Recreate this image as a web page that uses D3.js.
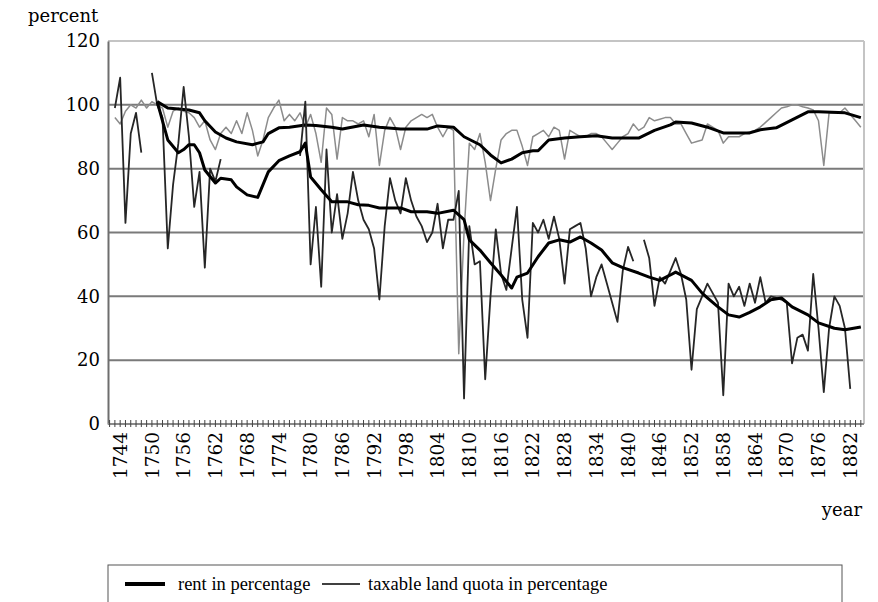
<!DOCTYPE html>
<html><head><meta charset="utf-8">
<script src="https://cdn.jsdelivr.net/npm/d3@7"></script>
<style>
body{margin:0;background:#fff}
svg{display:block}
text{font-family:"DejaVu Serif",serif;fill:#000}
</style>
</head><body>
<svg id="c" width="878" height="602"></svg>
<script>
// ---- data ----
const yTickValues = [0, 20, 40, 60, 80, 100, 120];
const xTickLabels = [1744,1750,1756,1762,1768,1774,1780,1786,1792,1798,1804,1810,1816,1822,1828,1834,1840,1846,1852,1858,1864,1870,1876,1882];

// thin grey upper series (annual, 1743-1884)
const quotaUpperStart = 1743;
const quotaUpperValues = [96,94,98,100,99,101.5,99,101,100,99,93,98,99,98,97.5,96,93,95,89,86,91,93,91,95,91,97.5,92,84,89,96,99,101.5,95,97,95,97.5,93,97,91,82,99,97,83,96,95,95,94,95,90,97,81,92,96,93,86,93,95,96,97,96,97,93,90,93,92,22,60,88,86,91,82,70,80,89,91,92,92,87,81,90,91,92,90,93,92,83,92,91,90,90,91,91,90,88,86,88,90,91,94,92,93,96,95,95.5,96,96,94,94,91,88,88.5,89,94,93,92,88,90,90,90,91,91.5,92,93,94.5,96,97.5,99,99.4,100,100,99.4,99,98.4,95,81,97.5,97.5,97.5,99,97,95,93];

// thin dark lower series (annual, 1743-1882, null = gap)
const quotaLowerStart = 1743;
const quotaLowerValues = [99,108.5,63,91,97.5,85,null,110,100,96,55,75,88,105.6,90,68,79,49,80,76,83,
 null,null,null,null,null,null,null,null,null,null,null,null,null,null,
 84,101,50,68,43,86,60,72,58,66,79,70,64,61,55,39,62,77,70,66,77,70,65,62,57,60,69,55,64,64,73,8,62,50,51,14,40,61,47,42,55,68,39,27,63,60,64,58,65,58,44,61,62,63,55,40,46,50,44,38,32,48,55.5,51,null,57.7,52,37,46,44,48,52,47,39,17,36,40,44,41,38,9,44,40,43,37,44,38,46,38,40,39.5,39,38,19,27,28,23,47,30,10,30,40,37,30,11];

// thick upper series
const rentUpperYears  = [1751,1753,1757,1759,1760,1762,1764,1766,1769,1771,1772,1774,1776,1779,1781,1784,1786,1790,1793,1797,1802,1804,1807,1809,1812,1814,1816,1818,1820,1822,1823,1825,1828,1831,1834,1837,1842,1845,1848,1849,1852,1855,1858,1863,1865,1868,1871,1874,1876,1881,1884];
const rentUpperValues = [101,99,98.4,97.5,95,91.5,89.6,88.4,87.5,88.4,91,92.8,93,93.7,93.5,93,92.4,93.7,93,92.4,92.4,93.4,93,90,87.5,84.3,81.8,83,85,85.6,85.6,89,89.6,90,90.3,89.6,89.6,92,93.7,94.6,94.3,93,91.2,91.2,92.2,92.8,95.3,97.8,97.8,97.5,96];

// thick lower series
const rentLowerYears  = [1751,1752,1753,1755,1756,1757,1758,1759,1760,1762,1763,1765,1766,1768,1770,1771,1772,1774,1776,1778,1779,1780,1782,1784,1787,1789,1791,1793,1797,1799,1802,1804,1807,1809,1810,1812,1814,1816,1818,1819,1821,1823,1825,1827,1829,1831,1833,1835,1837,1839,1842,1844,1846,1848,1849,1852,1854,1855,1857,1859,1861,1863,1865,1867,1869,1871,1874,1876,1879,1881,1884];
const rentLowerValues = [101,95,89,85,86,87.5,87.5,85,79.6,75.5,77,76.5,74.3,71.8,71,75,79,82.5,84,85.3,88,77.4,73.4,69.6,69.6,68.7,68.5,67.7,67.7,66.5,66.5,66,67,64,57.7,54.5,50.5,46.7,42.6,46,47.3,52.4,56.7,57.7,57,58.6,56.7,54.5,50.5,49,47.3,46,45,46.7,47.6,45,41,39.5,36.7,34.2,33.5,35,36.7,38.9,39.5,36.7,34.2,31.7,30,29.5,30.4];

const legendLabels = ["rent in percentage", "taxable land quota in percentage"];

// ---- drawing ----
const svg = d3.select("#c");
const L = 108, R = 864, T = 41, B = 424;
const x = d3.scaleLinear().domain([1741.7, 1884.6]).range([L, R]);
const y = d3.scaleLinear().domain([0, 120]).range([B, T]);

// gridlines
svg.append("g").selectAll("line").data(yTickValues.filter(v => v > 0 && v < 120)).join("line")
  .attr("x1", L).attr("x2", R).attr("y1", d => y(d)).attr("y2", d => y(d))
  .attr("stroke", "#7a7a7a").attr("stroke-width", 2);
// top and right border
svg.append("line").attr("x1", L).attr("x2", R).attr("y1", y(120)).attr("y2", y(120))
  .attr("stroke", "#c4c4c4").attr("stroke-width", 2);
svg.append("line").attr("x1", R).attr("x2", R).attr("y1", y(120)).attr("y2", B)
  .attr("stroke", "#c4c4c4").attr("stroke-width", 2);

// y axis
const yAxis = d3.axisLeft(y).tickValues(yTickValues).tickSize(0).tickPadding(8);
const gy = svg.append("g").attr("transform", `translate(${L},0)`).call(yAxis);
gy.select(".domain").attr("stroke", "#6e6e6e").attr("stroke-width", 2);
gy.selectAll("text").style("font-family", '"DejaVu Serif",serif').style("font-size", "18px").attr("fill", "#000");

// x axis : yearly ticks
const yearTicks = d3.range(1742, 1885);
svg.append("line").attr("x1", L).attr("x2", R).attr("y1", B).attr("y2", B)
  .attr("stroke", "#8a8a8a").attr("stroke-width", 2);
svg.append("g").selectAll("line").data(yearTicks).join("line")
  .attr("x1", d => x(d)).attr("x2", d => x(d)).attr("y1", B - 4).attr("y2", B + 3)
  .attr("stroke", "#444").attr("stroke-width", 1);
svg.append("g").selectAll("text").data(xTickLabels).join("text")
  .attr("transform", d => `translate(${x(d)},${B + 8}) rotate(-90)`)
  .attr("text-anchor", "end").attr("dy", "0.36em")
  .style("font-size", "18.5px").text(d => d);

// lines
const line = d3.line().defined(d => d[1] != null).x(d => x(d[0])).y(d => y(d[1]));
const quotaUpper = quotaUpperValues.map((v, i) => [quotaUpperStart + i, v]);
const quotaLower = quotaLowerValues.map((v, i) => [quotaLowerStart + i, v]);
const rentUpper = rentUpperYears.map((yr, i) => [yr, rentUpperValues[i]]);
const rentLower = rentLowerYears.map((yr, i) => [yr, rentLowerValues[i]]);

svg.append("path").attr("d", line(quotaUpper)).attr("fill", "none").attr("stroke", "#8c8c8c").attr("stroke-width", 1.5).attr("stroke-linejoin", "round");
svg.append("path").attr("d", line(rentUpper)).attr("fill", "none").attr("stroke", "#000").attr("stroke-width", 3).attr("stroke-linejoin", "round");
svg.append("path").attr("d", line(quotaLower)).attr("fill", "none").attr("stroke", "#262626").attr("stroke-width", 1.8).attr("stroke-linejoin", "round");
svg.append("path").attr("d", line(rentLower)).attr("fill", "none").attr("stroke", "#000").attr("stroke-width", 3).attr("stroke-linejoin", "round");

// axis titles
svg.append("text").attr("x", 28).attr("y", 22).style("font-size", "18px").text("percent");
svg.append("text").attr("x", 862).attr("y", 516).attr("text-anchor", "end").style("font-size", "18px").text("year");

// legend
svg.append("rect").attr("x", 108).attr("y", 565).attr("width", 734).attr("height", 60)
  .attr("fill", "none").attr("stroke", "#555").attr("stroke-width", 1);
const lg = svg.append("g");
lg.append("line").attr("x1", 125).attr("x2", 165).attr("y1", 584).attr("y2", 584).attr("stroke", "#000").attr("stroke-width", 4);
lg.append("text").attr("x", 178).attr("y", 590).style("font-family", '"Liberation Serif",serif').style("font-size", "18.5px").text(legendLabels[0]);
lg.append("line").attr("x1", 322).attr("x2", 360).attr("y1", 584).attr("y2", 584).attr("stroke", "#000").attr("stroke-width", 1.5);
lg.append("text").attr("x", 368).attr("y", 590).style("font-family", '"Liberation Serif",serif').style("font-size", "18.5px").text(legendLabels[1]);
</script>
</body></html>
